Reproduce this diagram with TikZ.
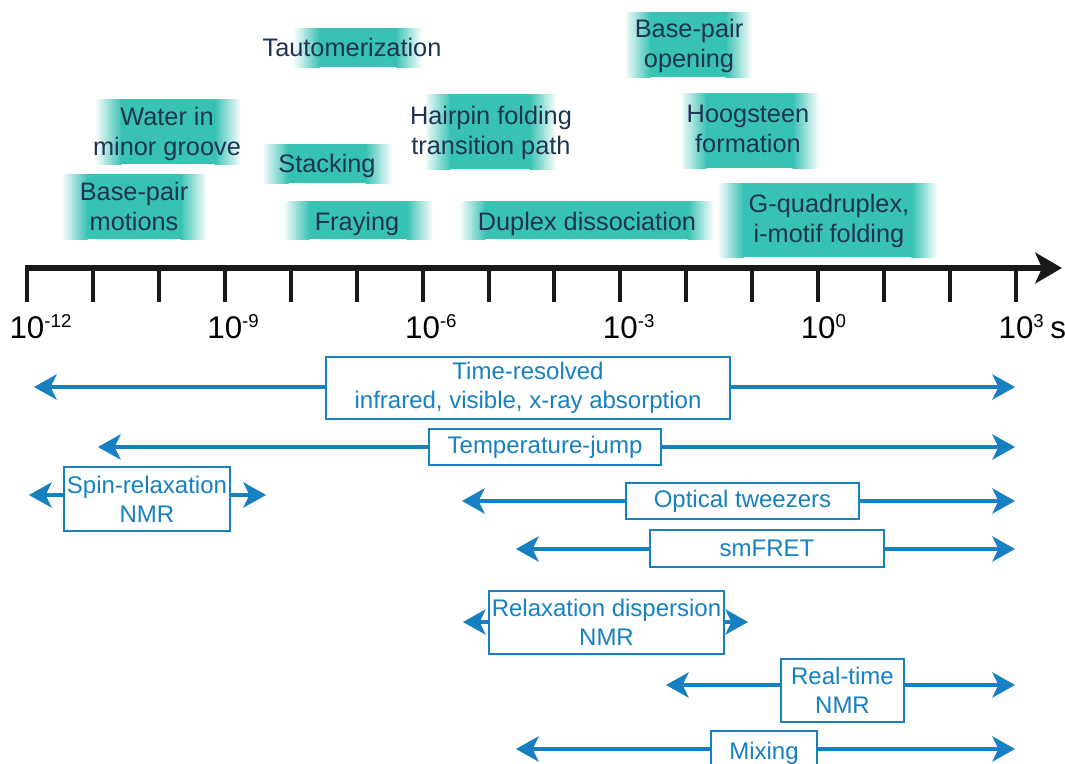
\documentclass[tikz,border=0pt]{standalone}
\usepackage{fontspec}
\setmainfont{Liberation Sans}
\usetikzlibrary{arrows.meta}
\definecolor{bandteal}{RGB}{56,194,179}
\definecolor{bandtext}{RGB}{30,52,82}
\definecolor{techblue}{RGB}{23,128,193}
\tikzset{axtick/.style = {line width = 3pt, black!90}}
\tikzset{axlabel/.style = {anchor=base, inner sep=0, font=\fontsize{23.5}{26}\selectfont}}
\tikzset{band/.style = {text=bandtext, font=\fontsize{19}{22.5}\selectfont, align=center, inner sep=0}}
\tikzset{tech/.style = {draw=techblue, line width=1.4pt, text=techblue, font=\fontsize{18}{22}\selectfont, align=center, inner sep=0, fill=white}}
\tikzset{boxsize/.style 2 args = {minimum width=#1*0.75pt, minimum height=#2*0.75pt}}
\tikzset{techline/.style = {techblue, line width=2.3pt, -{Stealth[length=17pt,width=19pt,inset=4.5pt]}}}
% teal band with soft left and right ends
\newcommand{\tealbar}[4]{%
  \shade[left color=white, right color=bandteal] (#1,#2) rectangle (#1+26.5,#4);
  \fill[bandteal] (#1+26,#2) rectangle (#3-26,#4);
  \shade[left color=bandteal, right color=white] (#3-26.5,#2) rectangle (#3,#4);}
\begin{document}
\begin{tikzpicture}[x=0.75pt, y=-0.75pt]
        \useasboundingbox (0,0) rectangle (1065,764);
        % motions
        \tealbar{293}{28}{422}{67}
        \tealbar{95}{99}{241}{164}
        \tealbar{262}{144}{392}{183}
        \tealbar{61}{174}{207}{239}
        \tealbar{283}{201}{433}{239}
        \tealbar{424}{94}{556}{169}
        \tealbar{459}{201}{714}{239}
        \tealbar{624}{12}{752}{77}
        \tealbar{680}{93}{819}{168}
        \tealbar{717}{183}{938}{257}
        \node[band, anchor=base] (taut) at (352,56) {Tautomerization};
        \node[band] (water) at (167,134) {Water in\\minor groove};
        \node[band, anchor=base] (stack) at (327,172) {Stacking};
        \node[band] (bpm) at (134,206) {Base-pair\\motions};
        \node[band, anchor=base] (fray) at (357,230) {Fraying};
        \node[band] (hairpin) at (491,133) {Hairpin folding\\transition path};
        \node[band, anchor=base] (duplex) at (587,230) {Duplex dissociation};
        \node[band] (bpo) at (689,46) {Base-pair\\opening};
        \node[band] (hoog) at (748,129) {Hoogsteen\\formation};
        \node[band] (gquad) at (829,221) {G-quadruplex,\\i-motif folding};
        % time axis
        \draw[line width=4.5pt, black!90, -{Stealth[length=20pt,width=23pt,inset=5pt]}] (25,268) -- (1062,268);
        \foreach \i in {0,...,15} \draw[axtick] (27+\i*65.93,268) -- ++(0,34);
        \foreach \e [count=\k from 0] in {-12,-9,-6,-3,0}
            \node[axlabel] (exp\k) at (27+\k*197.8,338) {10\rlap{\raisebox{8pt}{\fontsize{14}{14}\selectfont\e}}};
        \node[axlabel] (exp5) at (1016,338) {10\rlap{\raisebox{8pt}{\fontsize{14}{14}\selectfont 3}\hspace{5pt}s}};
        % techniques
        \node[tech, boxsize={404}{62}] (tr) at (528,388) {Time-resolved\\infrared, visible, x-ray absorption};
        \node[tech, boxsize={232}{36}] (tj) at (545,447) {Temperature-jump};
        \node[tech, boxsize={166}{64}] (sr) at (147,499) {Spin-relaxation\\NMR};
        \node[tech, boxsize={233}{36}] (ot) at (742.5,501) {Optical tweezers};
        \node[tech, boxsize={234}{37}] (sm) at (767,548.5) {smFRET};
        \node[tech, boxsize={235}{63}] (rd) at (606.5,622.5) {Relaxation dispersion\\NMR};
        \node[tech, boxsize={123}{63}] (rt) at (842.5,690.5) {Real-time\\NMR};
        \node[tech, boxsize={106}{44}] (mx) at (764,753) {Mixing};
        \foreach \n/\l/\r/\y in {tr/34/1015/387, tj/98/1015/447, sr/29/266/495, ot/462/1015/501, sm/516/1015/549, rd/463/748/622, rt/666/1015/685, mx/516/1015/749} {
            \coordinate (\n-l) at (\l,\y);
            \coordinate (\n-r) at (\r,\y);
            \draw[techline] (\n-l -| \n.west) -- (\n-l);
            \draw[techline] (\n-r -| \n.east) -- (\n-r);
        }
\end{tikzpicture}
\end{document}
